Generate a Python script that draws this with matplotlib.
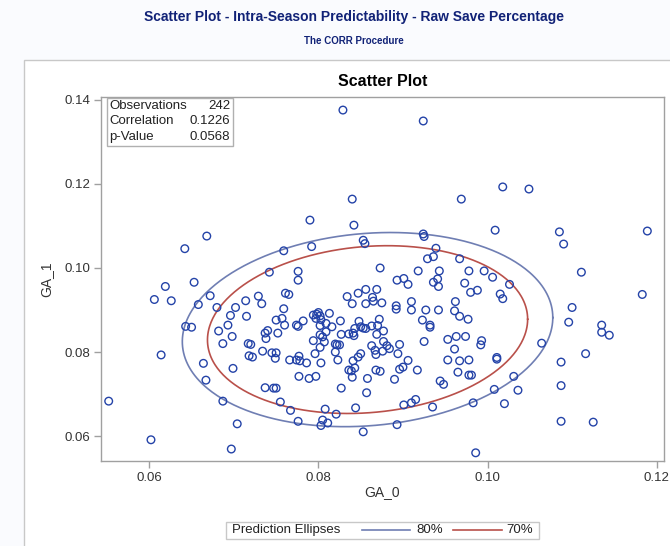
import numpy as np
import matplotlib
matplotlib.use("Agg")
import matplotlib.pyplot as plt
from matplotlib.patches import Rectangle
from matplotlib.lines import Line2D

plt.rcParams['font.family'] = ['Liberation Sans', 'DejaVu Sans']

# ---------------- data (in thousandths) ----------------
ga0_milli = [
    82.9, 92.4, 101.8, 104.9, 96.9, 84.0, 79.0, 84.2, 66.8, 100.9,
    108.5, 118.9, 109.0, 92.4, 92.5, 64.2, 75.9, 79.2, 85.3, 85.5,
    93.9, 92.9, 93.6, 96.7, 74.2, 77.6, 77.6, 87.3, 91.8, 94.3,
    97.8, 99.6, 111.1, 100.6, 89.3, 90.1, 90.6, 93.6, 94.1, 94.2,
    97.3, 102.6, 61.9, 65.3, 60.6, 62.6, 67.2, 65.8, 68.0, 70.2,
    71.4, 72.9, 73.3, 76.1, 76.5, 75.9, 83.4, 84.7, 85.6, 86.9,
    86.4, 86.5, 84.0, 85.6, 87.5, 89.2, 89.2, 91.0, 91.0, 92.7,
    94.2, 96.2, 96.1, 98.0, 98.8, 101.5, 101.8, 118.3, 110.0, 96.7,
    97.7, 92.3, 93.2, 93.2, 87.2, 86.3, 87.0, 87.7, 86.9, 89.6,
    87.7, 88.1, 88.4, 86.3, 87.6, 86.7, 86.8, 89.4, 92.5, 95.3,
    96.3, 97.4, 99.3, 99.2, 96.1, 90.6, 95.3, 96.7, 97.8, 101.1,
    101.1, 90.0, 89.6, 86.8, 87.3, 91.7, 96.5, 97.8, 98.1, 89.0,
    94.4, 94.8, 103.1, 106.4, 109.6, 113.5, 113.5, 114.4, 111.6, 108.7,
    108.7, 103.6, 100.8, 102.0, 98.3, 91.5, 91.0, 90.1, 93.5, 89.3,
    108.7, 112.5, 98.6, 85.7, 84.4, 85.3, 64.3, 65.0, 61.4, 55.2,
    60.2, 69.7, 70.4, 68.7, 66.7, 66.4, 69.9, 68.2, 68.7, 69.3,
    69.6, 69.8, 71.5, 71.7, 72.0, 71.8, 72.2, 73.4, 73.7, 74.0,
    73.8, 75.0, 75.2, 75.7, 76.0, 74.5, 75.0, 74.9, 73.7, 74.7,
    75.0, 75.5, 76.7, 77.6, 76.6, 77.4, 77.8, 77.7, 78.6, 77.7,
    78.9, 79.7, 80.3, 77.4, 77.6, 78.2, 79.4, 79.8, 80.0, 80.2,
    79.7, 80.3, 81.3, 80.2, 80.9, 81.6, 79.4, 79.6, 80.2, 80.5,
    80.9, 80.7, 80.2, 82.0, 82.2, 82.5, 82.0, 82.3, 82.6, 82.7,
    83.6, 84.1, 84.2, 84.8, 85.0, 85.3, 85.6, 84.3, 83.6, 83.9,
    84.3, 84.0, 84.1, 84.7, 85.0, 85.8, 82.7, 80.8, 82.1, 80.5,
    81.1, 80.3,
]
ga1_milli = [
    137.6, 135.0, 119.3, 118.8, 116.4, 116.4, 111.4, 110.2, 107.6, 109.0,
    108.6, 108.8, 105.7, 108.1, 107.5, 104.6, 104.1, 105.1, 106.6, 105.8,
    104.7, 102.2, 102.7, 102.2, 99.0, 99.2, 97.1, 100.0, 99.3, 99.3,
    99.3, 99.3, 99.0, 97.8, 97.1, 97.5, 96.1, 96.6, 97.4, 95.6,
    96.4, 96.1, 95.6, 96.6, 92.5, 92.2, 93.4, 91.3, 90.6, 90.6,
    92.2, 93.3, 91.5, 94.0, 93.7, 90.3, 93.2, 94.0, 94.9, 94.9,
    93.0, 92.1, 91.5, 91.5, 91.7, 91.0, 90.2, 92.0, 90.0, 90.0,
    90.0, 92.0, 89.8, 94.2, 94.7, 93.8, 92.7, 93.7, 90.6, 88.5,
    87.8, 87.6, 86.4, 85.9, 87.8, 86.2, 86.3, 85.0, 84.2, 81.8,
    82.5, 81.5, 80.8, 81.5, 80.2, 80.4, 79.4, 79.6, 82.5, 83.0,
    83.7, 83.7, 82.7, 81.7, 80.7, 78.0, 78.1, 77.9, 78.1, 78.7,
    78.3, 76.4, 75.9, 75.7, 75.4, 75.7, 75.2, 74.5, 74.5, 73.5,
    73.1, 72.3, 74.2, 82.1, 87.1, 86.4, 84.7, 84.0, 79.6, 77.6,
    72.0, 70.9, 71.1, 67.7, 67.9, 68.7, 67.9, 67.4, 66.9, 62.7,
    63.5, 63.3, 56.0, 70.3, 66.7, 61.0, 86.1, 85.9, 79.3, 68.3,
    59.1, 56.9, 62.9, 68.3, 73.3, 77.3, 76.1, 85.0, 82.0, 86.4,
    88.7, 83.7, 88.5, 82.0, 81.8, 79.1, 78.8, 80.2, 84.5, 85.1,
    83.2, 87.6, 84.5, 88.0, 86.4, 79.8, 79.8, 78.5, 71.5, 71.4,
    71.4, 68.1, 66.1, 63.5, 78.1, 78.1, 77.9, 79.0, 77.4, 74.2,
    73.7, 74.2, 77.4, 86.4, 86.1, 87.4, 88.8, 89.0, 89.4, 88.6,
    88.0, 87.7, 89.2, 86.3, 86.8, 86.0, 82.7, 79.6, 84.1, 83.6,
    84.8, 82.4, 81.1, 81.9, 81.7, 81.7, 80.0, 78.1, 87.4, 84.2,
    84.3, 84.5, 83.9, 87.3, 86.0, 85.7, 85.6, 85.6, 75.7, 75.5,
    76.2, 74.0, 77.9, 78.8, 79.6, 73.7, 71.4, 66.4, 65.2, 63.8,
    63.1, 62.5,
]
ga0 = np.array(ga0_milli) / 1000.0
ga1 = np.array(ga1_milli) / 1000.0

stat_labels = ["Observations", "Correlation", "p-Value"]
stat_values = ["242", "0.1226", "0.0568"]
ellipse_levels = [0.80, 0.70]
ellipse_names = ["80%", "70%"]
ellipse_colors = ["#6F7EB3", "#B9504A"]
x_ticks = [0.06, 0.08, 0.10, 0.12]
y_ticks = [0.06, 0.08, 0.10, 0.12, 0.14]

title_main = "Scatter Plot - Intra-Season Predictability - Raw Save Percentage"
title_sub = "The CORR Procedure"

# ---------------- figure ----------------
W, H = 670, 546
fig = plt.figure(figsize=(W / 100, H / 100), dpi=100)
fig.patch.set_facecolor("#FAFBFE")

# white output panel (behind everything)
panel = Rectangle((24 / W, -0.01), 1 - 24 / W + 0.01, 1 - 60 / H + 0.01, transform=fig.transFigure,
                  facecolor="white", edgecolor="#C8C8C8", linewidth=1.0, zorder=-10)
fig.patches.append(panel)

title_col = "#112277"
fig.text(354 / W, 1 - 17 / H, title_main, ha="center", va="center",
         fontsize=10, fontweight="bold", color=title_col)
fig.text(354 / W, 1 - 41 / H, title_sub, ha="center", va="center",
         fontsize=7, fontweight="bold", color=title_col)

ax = fig.add_axes([101 / W, 1 - 461 / H, (664 - 101) / W, (461 - 97) / H])
ax.set_facecolor("white")
ax.set_xlim(0.05429, 0.12087)
ax.set_ylim(0.05405, 0.14071)

ax.scatter(ga0, ga1, s=30, facecolors="none", edgecolors="#2443A8", linewidths=1.0, zorder=3)

# prediction ellipses (bivariate normal, F-based)
n = len(ga0)
mu = np.array([ga0.mean(), ga1.mean()])
S = np.cov(np.vstack([ga0, ga1]))
L = np.linalg.cholesky(S)
t = np.linspace(0, 2 * np.pi, 400)
m = n - 2
for p, col in zip(ellipse_levels, ellipse_colors):
    fq = (m / 2.0) * ((1 - p) ** (-2.0 / m) - 1.0)
    c = 2.0 * (n + 1) * (n - 1) / (n * (n - 2)) * fq
    pts = mu[:, None] + np.sqrt(c) * L @ np.vstack([np.cos(t), np.sin(t)])
    ax.plot(pts[0], pts[1], color=col, linewidth=1.2, zorder=2)

for s in ax.spines.values():
    s.set_color("#A0A0A0")
    s.set_linewidth(1.0)
ax.set_xticks(x_ticks)
ax.set_xticklabels(["0.06", "0.08", "0.10", "0.12"])
ax.set_yticks(y_ticks)
ax.set_yticklabels(["0.06", "0.08", "0.10", "0.12", "0.14"])
ax.tick_params(direction="out", length=5, width=1, color="#A0A0A0",
               labelsize=9.5, labelcolor="#333333", pad=3)
ax.set_xlabel("GA_0", fontsize=10, color="#333333", labelpad=1)
ax.set_ylabel("GA_1", fontsize=10, color="#333333", labelpad=8)
ax.set_title("Scatter Plot", fontsize=11.5, fontweight="bold", color="black", pad=8)

# statistics inset
box_l, box_r, box_t, box_b = 106.5, 233, 98, 146.5
sbox = Rectangle((box_l / W, 1 - box_b / H), (box_r - box_l) / W, (box_b - box_t) / H,
                 transform=fig.transFigure, facecolor="white", edgecolor="#B0B0B0",
                 linewidth=1.0, zorder=5)
fig.patches.append(sbox)
for i, (lab, val) in enumerate(zip(stat_labels, stat_values)):
    yy = 1 - (106 + 15.5 * i) / H
    fig.text(109.5 / W, yy, lab, ha="left", va="center", fontsize=9.5, color="#222222", zorder=6)
    fig.text(230 / W, yy, val, ha="right", va="center", fontsize=9.5, color="#222222", zorder=6)

# legend
lg_l, lg_r, lg_t, lg_b = 226, 539, 521.5, 538.5
lbox = Rectangle((lg_l / W, 1 - lg_b / H), (lg_r - lg_l) / W, (lg_b - lg_t) / H,
                 transform=fig.transFigure, facecolor="white", edgecolor="#C8C8C8", linewidth=1.0)
fig.patches.append(lbox)
ly = 1 - 530 / H
fig.text(231.5 / W, ly, "Prediction Ellipses", ha="left", va="center", fontsize=9.5, color="#222222")
seg_x = [(361.5, 410), (453, 501.5)]
txt_x = [416, 506.5]
for (x0, x1), tx, name, col in zip(seg_x, txt_x, ellipse_names, ellipse_colors):
    fig.add_artist(Line2D([x0 / W, x1 / W], [ly, ly], transform=fig.transFigure,
                          color=col, linewidth=1.2))
    fig.text(tx / W, ly, name, ha="left", va="center", fontsize=9.5, color="#222222")

fig.savefig("out.png", dpi=100, facecolor=fig.get_facecolor())
